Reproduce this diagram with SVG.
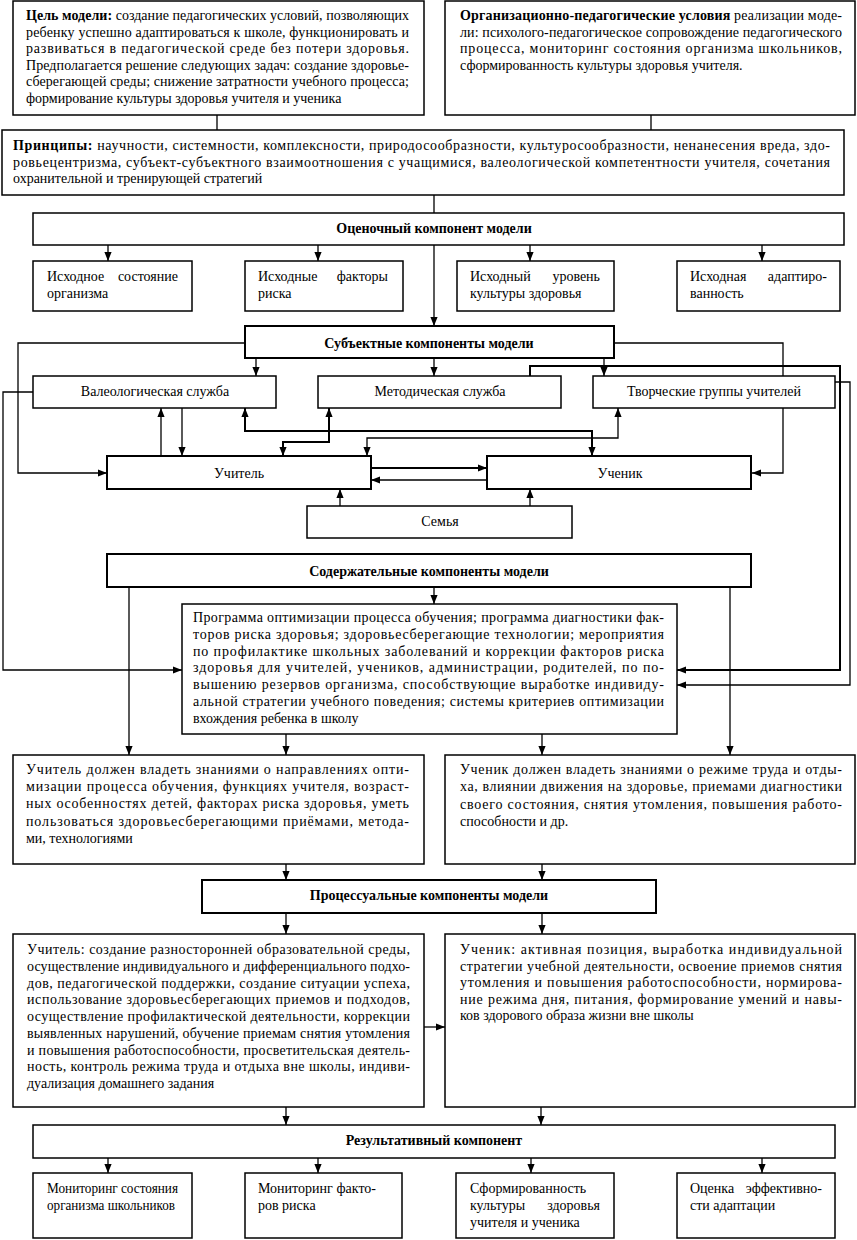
<svg xmlns="http://www.w3.org/2000/svg" width="857" height="1240" viewBox="0 0 857 1240">
<style>
rect{fill:#fff;stroke:#000;stroke-width:1.5}
rect.t{stroke-width:2}
text{font-family:"Liberation Serif","Times New Roman",serif;font-size:14px;fill:#000}
.b{font-weight:bold}
.c{text-anchor:middle}
.e{text-anchor:end}
.ln{fill:none;stroke:#000;stroke-width:1.3}
.tk{stroke-width:2}
.a{marker-end:url(#ah)}
.s{marker-start:url(#as)}
</style>
<defs>
<marker id="ah" viewBox="0 0 10 8" refX="10" refY="4" markerWidth="9" markerHeight="8" markerUnits="userSpaceOnUse" orient="auto"><path d="M0,0L10,4L0,8z" fill="#000"/></marker>
<marker id="as" viewBox="0 0 10 8" refX="10" refY="4" markerWidth="9" markerHeight="8" markerUnits="userSpaceOnUse" orient="auto-start-reverse"><path d="M0,0L10,4L0,8z" fill="#000"/></marker>
</defs>
<g id="connectors">
<path class="ln" d="M217,115V130M651,115V130M434,195V213"/>
<path class="ln a" d="M434,245V326"/>
<path class="ln a" d="M108,245V261"/>
<path class="ln a" d="M318,245V261"/>
<path class="ln a" d="M530,245V261"/>
<path class="ln a" d="M762,245V261"/>
<path class="ln a" d="M245,343H18V473H107"/>
<path class="ln a" d="M614,343H783V473H752"/>
<path class="ln a" d="M256,358V376"/>
<path class="ln a" d="M434,358V376"/>
<path class="ln a" d="M604,358V376"/>
<path class="ln a" d="M161,456V408"/>
<path class="ln a" d="M182,408V456"/>
<path class="ln tk a s" d="M245,408V431H592V456"/>
<path class="ln tk a s" d="M329,408V442H283V456"/>
<path class="ln a s" d="M618,408V438H367V456"/>
<path class="ln tk a" d="M371,468H487"/>
<path class="ln a" d="M487,480H371"/>
<path class="ln a" d="M340,506V489"/>
<path class="ln a" d="M530,506V489"/>
<path class="ln a" d="M33,392H3V670H182"/>
<path class="ln tk a" d="M530,376V366H840V670H677"/>
<path class="ln a" d="M835,382H850V685H677"/>
<path class="ln a" d="M129,587V755"/>
<path class="ln a" d="M434,587V604"/>
<path class="ln a" d="M730,587V755"/>
<path class="ln a" d="M286,734V755"/>
<path class="ln a" d="M542,734V755"/>
<path class="ln a" d="M286,864V880"/>
<path class="ln a" d="M542,864V880"/>
<path class="ln a" d="M286,913V934"/>
<path class="ln a" d="M542,913V934"/>
<path class="ln a" d="M424,1027H445"/>
<path class="ln a" d="M286,1107V1125"/>
<path class="ln a" d="M541,1107V1125"/>
<path class="ln a" d="M108,1158V1173"/>
<path class="ln a" d="M318,1158V1173"/>
<path class="ln a" d="M531,1158V1173"/>
<path class="ln a" d="M762,1158V1173"/>
</g>
<g id="goal">
<rect x="13" y="1" width="411" height="114"/>
<text x="26" y="20" textLength="383" lengthAdjust="spacing"><tspan class="b">Цель модели:</tspan> создание педагогических условий, позволяющих</text>
<text x="26" y="36.6" textLength="383" lengthAdjust="spacing">ребенку успешно адаптироваться к школе, функционировать и</text>
<text x="26" y="53.2" textLength="383" lengthAdjust="spacing">развиваться в педагогической среде без потери здоровья.</text>
<text x="26" y="69.8" textLength="383" lengthAdjust="spacing">Предполагается решение следующих задач: создание здоровье-</text>
<text x="26" y="86.4" textLength="383" lengthAdjust="spacing">сберегающей среды; снижение затратности учебного процесса;</text>
<text x="26" y="103">формирование культуры здоровья учителя и ученика</text>
</g>
<g id="conditions">
<rect x="445" y="1" width="410" height="114"/>
<text x="460" y="20" textLength="382" lengthAdjust="spacing"><tspan class="b">Организационно-педагогические условия</tspan> реализации моде-</text>
<text x="460" y="36.6" textLength="382" lengthAdjust="spacing">ли: психолого-педагогическое сопровождение педагогического</text>
<text x="460" y="53.2" textLength="382" lengthAdjust="spacing">процесса, мониторинг состояния организма школьников,</text>
<text x="460" y="69.8">сформированность культуры здоровья учителя.</text>
</g>
<g id="principles">
<rect x="2" y="130" width="842" height="65"/>
<text x="13" y="150" textLength="817" lengthAdjust="spacing"><tspan class="b">Принципы:</tspan> научности, системности, комплексности, природосообразности, культуросообразности, ненанесения вреда, здо-</text>
<text x="13" y="166.5" textLength="817" lengthAdjust="spacing">ровьецентризма, субъект-субъектного взаимоотношения с учащимися, валеологической компетентности учителя, сочетания</text>
<text x="13" y="183">охранительной и тренирующей стратегий</text>
</g>
<g id="evaluative">
<rect x="33" y="213" width="811" height="32"/>
<text class="b c" x="434" y="233">Оценочный компонент модели</text>
</g>
<g id="e1"><rect x="33" y="261" width="159" height="50"/>
<text y="281"><tspan x="47">Исходное</tspan><tspan class="e" x="178">состояние</tspan></text><text x="47" y="298">организма</text></g>
<g id="e2"><rect x="245" y="261" width="158" height="50"/>
<text y="281"><tspan x="258">Исходные</tspan><tspan class="e" x="388">факторы</tspan></text><text x="258" y="298">риска</text></g>
<g id="e3"><rect x="457" y="261" width="157" height="50"/>
<text y="281"><tspan x="470">Исходный</tspan><tspan class="e" x="600">уровень</tspan></text><text x="470" y="298">культуры здоровья</text></g>
<g id="e4"><rect x="677" y="261" width="163" height="50"/>
<text y="281"><tspan x="690">Исходная</tspan><tspan class="e" x="827">адаптиро-</tspan></text><text x="690" y="298">ванность</text></g>
<g id="subjects">
<rect class="t" x="245" y="326" width="369" height="32"/>
<text class="b c" x="429" y="348">Субъектные компоненты модели</text>
</g>
<g id="valeo"><rect x="33" y="376" width="243" height="32"/><text class="c" x="155" y="396">Валеологическая служба</text></g>
<g id="method"><rect x="318" y="376" width="243" height="32"/><text class="c" x="440" y="396">Методическая служба</text></g>
<g id="creative"><rect x="593" y="376" width="242" height="32"/><text class="c" x="714" y="396">Творческие группы учителей</text></g>
<g id="teacher"><rect class="t" x="107" y="456" width="264" height="33"/><text class="c" x="239" y="478">Учитель</text></g>
<g id="pupil"><rect class="t" x="487" y="456" width="264" height="33"/><text class="c" x="620" y="478">Ученик</text></g>
<g id="family"><rect x="307" y="506" width="265" height="32"/><text class="c" x="440" y="526">Семья</text></g>
<g id="content">
<rect class="t" x="107" y="554" width="644" height="33"/>
<text class="b c" x="429" y="576">Содержательные компоненты модели</text>
</g>
<g id="program">
<rect x="182" y="604" width="495" height="130"/>
<text x="193" y="622" textLength="471" lengthAdjust="spacing">Программа оптимизации процесса обучения; программа диагностики фак-</text>
<text x="193" y="638.8" textLength="471" lengthAdjust="spacing">торов риска здоровья; здоровьесберегающие технологии; мероприятия</text>
<text x="193" y="655.6" textLength="471" lengthAdjust="spacing">по профилактике школьных заболеваний и коррекции факторов риска</text>
<text x="193" y="672.4" textLength="471" lengthAdjust="spacing">здоровья для учителей, учеников, администрации, родителей, по по-</text>
<text x="193" y="689.2" textLength="471" lengthAdjust="spacing">вышению резервов организма, способствующие выработке индивиду-</text>
<text x="193" y="706" textLength="471" lengthAdjust="spacing">альной стратегии учебного поведения; системы критериев оптимизации</text>
<text x="193" y="722.8">вхождения ребенка в школу</text>
</g>
<g id="teacher-knowledge">
<rect x="13" y="755" width="411" height="109"/>
<text x="26" y="774" textLength="383" lengthAdjust="spacing">Учитель должен владеть знаниями о направлениях опти-</text>
<text x="26" y="791" textLength="383" lengthAdjust="spacing">мизации процесса обучения, функциях учителя, возраст-</text>
<text x="26" y="808.3" textLength="383" lengthAdjust="spacing">ных особенностях детей, факторах риска здоровья, уметь</text>
<text x="26" y="825.6" textLength="383" lengthAdjust="spacing">пользоваться здоровьесберегающими приёмами, метода-</text>
<text x="26" y="843">ми, технологиями</text>
</g>
<g id="pupil-knowledge">
<rect x="445" y="755" width="410" height="109"/>
<text x="460" y="774" textLength="382" lengthAdjust="spacing">Ученик должен владеть знаниями о режиме труда и отды-</text>
<text x="460" y="791.3" textLength="382" lengthAdjust="spacing">ха, влиянии движения на здоровье, приемами диагностики</text>
<text x="460" y="808.6" textLength="382" lengthAdjust="spacing">своего состояния, снятия утомления, повышения работо-</text>
<text x="460" y="826">способности и др.</text>
</g>
<g id="procedural">
<rect class="t" x="202" y="880" width="454" height="33"/>
<text class="b c" x="429" y="900">Процессуальные компоненты модели</text>
</g>
<g id="teacher-process">
<rect x="13" y="934" width="411" height="173"/>
<text x="27" y="954" textLength="383" lengthAdjust="spacing">Учитель: создание разносторонней образовательной среды,</text>
<text x="27" y="970.75" textLength="383" lengthAdjust="spacing">осуществление индивидуального и дифференциального подхо-</text>
<text x="27" y="987.5" textLength="383" lengthAdjust="spacing">дов, педагогической поддержки, создание ситуации успеха,</text>
<text x="27" y="1004.25" textLength="383" lengthAdjust="spacing">использование здоровьесберегающих приемов и подходов,</text>
<text x="27" y="1021" textLength="383" lengthAdjust="spacing">осуществление профилактической деятельности, коррекции</text>
<text x="27" y="1037.75" textLength="383" lengthAdjust="spacing">выявленных нарушений, обучение приемам снятия утомления</text>
<text x="27" y="1054.5" textLength="383" lengthAdjust="spacing">и повышения работоспособности, просветительская деятель-</text>
<text x="27" y="1071.25" textLength="383" lengthAdjust="spacing">ность, контроль режима труда и отдыха вне школы, индиви-</text>
<text x="27" y="1088">дуализация домашнего задания</text>
</g>
<g id="pupil-process">
<rect x="445" y="934" width="410" height="173"/>
<text x="460" y="954" textLength="382" lengthAdjust="spacing">Ученик: активная позиция, выработка индивидуальной</text>
<text x="460" y="970.5" textLength="382" lengthAdjust="spacing">стратегии учебной деятельности, освоение приемов снятия</text>
<text x="460" y="987" textLength="382" lengthAdjust="spacing">утомления и повышения работоспособности, нормирова-</text>
<text x="460" y="1003.5" textLength="382" lengthAdjust="spacing">ние режима дня, питания, формирование умений и навы-</text>
<text x="460" y="1020">ков здорового образа жизни вне школы</text>
</g>
<g id="result">
<rect x="33" y="1125" width="802" height="33"/>
<text class="b c" x="434" y="1145">Результативный компонент</text>
</g>
<g id="r1"><rect x="33" y="1173" width="159" height="65"/>
<text x="47" y="1193" textLength="131" lengthAdjust="spacingAndGlyphs">Мониторинг состояния</text><text x="47" y="1210" textLength="128" lengthAdjust="spacingAndGlyphs">организма школьников</text></g>
<g id="r2"><rect x="245" y="1173" width="157" height="65"/>
<text y="1193"><tspan x="258">Мониторинг</tspan><tspan class="e" x="376">факто-</tspan></text><text x="258" y="1210">ров риска</text></g>
<g id="r3"><rect x="456" y="1173" width="158" height="65"/>
<text x="470" y="1193">Сформированность</text><text y="1210"><tspan x="470">культуры</tspan><tspan class="e" x="600">здоровья</tspan></text><text x="470" y="1227">учителя и ученика</text></g>
<g id="r4"><rect x="677" y="1173" width="158" height="65"/>
<text y="1193"><tspan x="690">Оценка</tspan><tspan class="e" x="822">эффективно-</tspan></text><text x="690" y="1210">сти адаптации</text></g>
</svg>
